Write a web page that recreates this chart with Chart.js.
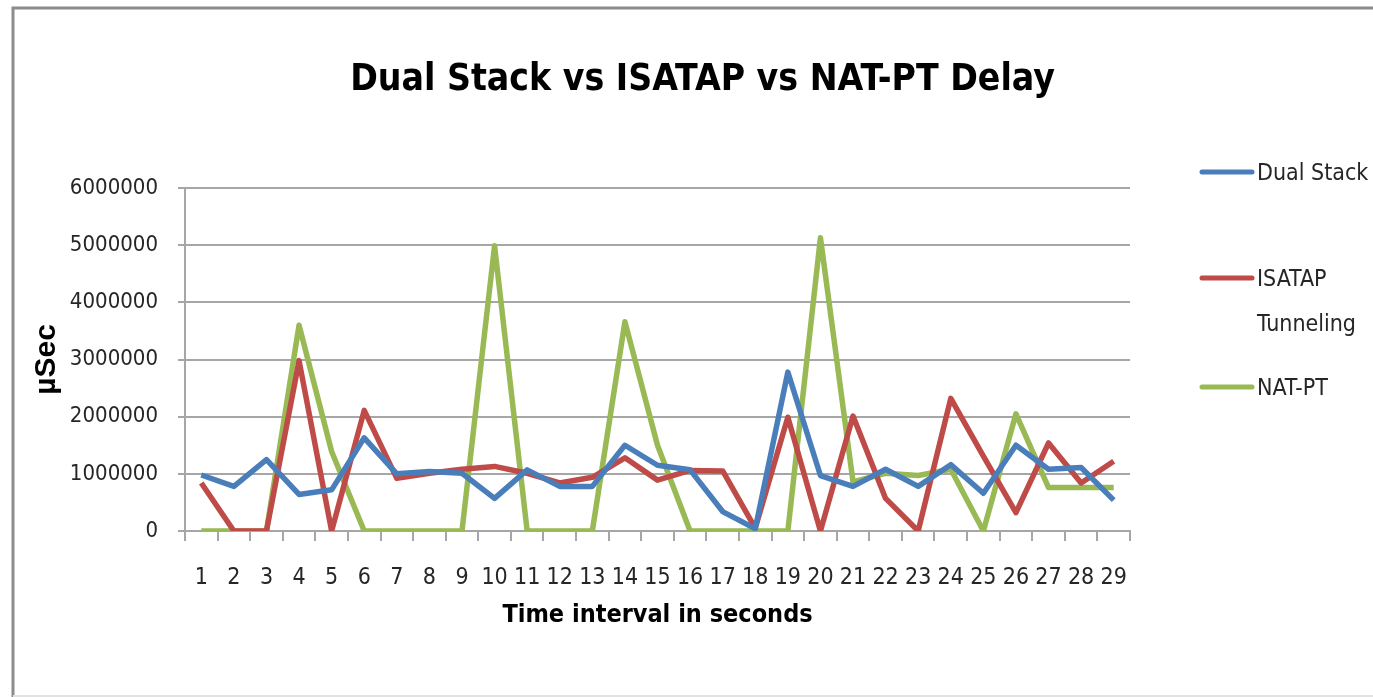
<!DOCTYPE html>
<html>
<head>
<meta charset="utf-8">
<script src="https://cdn.jsdelivr.net/npm/chart.js@4.4.1/dist/chart.umd.min.js"></script>
<style>
  html, body { margin: 0; padding: 0; background: #fff; }
  canvas { display: block; }
</style>
</head>
<body>
<canvas id="delayChart" width="1373" height="697"></canvas>
<script>
// time slots 1..29
const seconds = ['1','2','3','4','5','6','7','8','9','10','11','12','13','14','15',
                 '16','17','18','19','20','21','22','23','24','25','26','27','28','29'];

// delay in microseconds
const dualStack = [980000, 780000, 1250000, 640000, 720000, 1630000, 1000000, 1040000, 1010000, 570000,
                   1070000, 780000, 780000, 1500000, 1150000, 1070000, 340000, 40000, 2780000, 970000,
                   780000, 1080000, 780000, 1160000, 660000, 1500000, 1080000, 1110000, 540000];
const isatap = [840000, 0, 0, 2980000, 0, 2110000, 920000, 1010000, 1080000, 1130000,
                1010000, 840000, 940000, 1280000, 890000, 1060000, 1050000, 50000, 1990000, 0,
                2010000, 570000, 0, 2320000, 1310000, 320000, 1540000, 840000, 1220000];
const natPt = [0, 0, 0, 3600000, 1390000, 0, 0, 0, 0, 4990000,
               0, 0, 0, 3660000, 1500000, 0, 0, 0, 0, 5130000,
               860000, 1010000, 970000, 1080000, 0, 2050000, 760000, 760000, 760000];

const yTicks = [0, 1000000, 2000000, 3000000, 4000000, 5000000, 6000000];

const narrow = "'Liberation Sans Narrow', 'DejaVu Sans Condensed', 'Roboto Condensed', sans-serif";
const gridGrey = '#a6a6a6';

// frame round the whole chart, like the office chart border
const framePlugin = {
    id: 'frame',
    beforeDraw(chart) {
        const c = chart.ctx;
        c.save();
        c.fillStyle = '#fff';
        c.fillRect(0, 0, chart.width, chart.height);
        c.strokeStyle = '#8c8c8c';
        c.lineWidth = 3;
        c.beginPath();
        c.moveTo(13, chart.height + 5);
        c.lineTo(13, 8);
        c.lineTo(chart.width + 5, 8);
        c.stroke();
        c.strokeStyle = '#e2e2e2';
        c.lineWidth = 2;
        c.beginPath();
        c.moveTo(13, chart.height - 1);
        c.lineTo(chart.width, chart.height - 1);
        c.stroke();
        c.restore();
    }
};

// legend on the right, long name wrapped on two lines
const sideLegend = {
    id: 'sideLegend',
    afterDraw(chart) {
        const c = chart.ctx;
        const area = chart.chartArea;
        const rows = [area.top - 16, area.top + 90, area.top + 199];
        const x0 = area.right + 72;
        c.save();
        c.font = '23px ' + narrow;
        c.textBaseline = 'middle';
        c.fillStyle = '#262626';
        chart.data.datasets.forEach((ds, i) => {
            const y = rows[i];
            c.strokeStyle = ds.borderColor;
            c.lineWidth = 5;
            c.lineCap = 'round';
            c.beginPath();
            c.moveTo(x0, y);
            c.lineTo(x0 + 50, y);
            c.stroke();
            let lines = [ds.label];
            if (c.measureText(ds.label).width > 130) lines = ds.label.split(' ');
            lines.forEach((t, j) => c.fillText(t, x0 + 55, y + 2 + j * 45));
        });
        c.restore();
    }
};

const ctx = document.getElementById('delayChart').getContext('2d');

const chart = new Chart(ctx, {
    type: 'line',
    data: {
        labels: seconds,
        datasets: [
            { label: 'Dual Stack', data: dualStack, borderColor: '#4a7ebb' },
            { label: 'ISATAP Tunneling', data: isatap, borderColor: '#be4b48' },
            { label: 'NAT-PT', data: natPt, borderColor: '#98b954' },
        ],
    },
    options: {
        responsive: false,
        animation: false,
        devicePixelRatio: 1,
        layout: { padding: { left: 32, right: 0, top: 0, bottom: 0 } },
        elements: {
            line: { borderWidth: 5.5, tension: 0, borderJoinStyle: 'round' },
            point: { radius: 0 },
        },
        plugins: {
            legend: { display: false },
            tooltip: { enabled: false },
            title: {
                display: true,
                text: 'Dual Stack vs ISATAP vs NAT-PT Delay',
                color: '#000',
                font: { family: narrow, size: 37, weight: 'bold', lineHeight: 1.2 },
                padding: { top: 58, bottom: 85.6 },
            },
        },
        scales: {
            x: {
                offset: true,
                grid: {
                    offset: true,
                    drawOnChartArea: false,
                    drawTicks: true,
                    tickLength: 10,
                    color: gridGrey,
                    lineWidth: 2,
                },
                border: { color: gridGrey, width: 2 },
                ticks: {
                    color: '#262626',
                    font: { family: narrow, size: 23 },
                    padding: 23,
                    maxRotation: 0,
                    autoSkip: false,
                },
                title: {
                    display: true,
                    text: 'Time interval in seconds',
                    color: '#000',
                    font: { family: narrow, size: 25, weight: 'bold' },
                    padding: { top: 0, bottom: 67 },
                },
                afterFit(scale) { scale.height = 697 - 531; },
            },
            y: {
                min: 0,
                max: 6000000,
                afterBuildTicks(scale) { scale.ticks = yTicks.map(v => ({ value: v })); },
                grid: { color: gridGrey, lineWidth: 2, tickLength: 7 },
                border: { color: gridGrey, width: 2 },
                ticks: {
                    color: '#262626',
                    font: { family: narrow, size: 22 },
                    padding: 20,
                    callback: v => String(v),
                },
                title: {
                    display: true,
                    text: 'µSec',
                    color: '#000',
                    font: { family: "'Liberation Sans', Arial, sans-serif", size: 30, weight: 'bold' },
                    padding: { top: -3, bottom: 0 },
                },
                afterFit(scale) { scale.width = 185 - 32; },
            },
            // empty axis on the right that keeps room for the legend
            side: {
                type: 'linear',
                position: 'right',
                display: true,
                grid: { display: false },
                border: { display: false },
                ticks: { display: false },
                afterFit(scale) { scale.width = 1373 - 1130; },
            },
        },
    },
    plugins: [framePlugin, sideLegend],
});
</script>
</body>
</html>
